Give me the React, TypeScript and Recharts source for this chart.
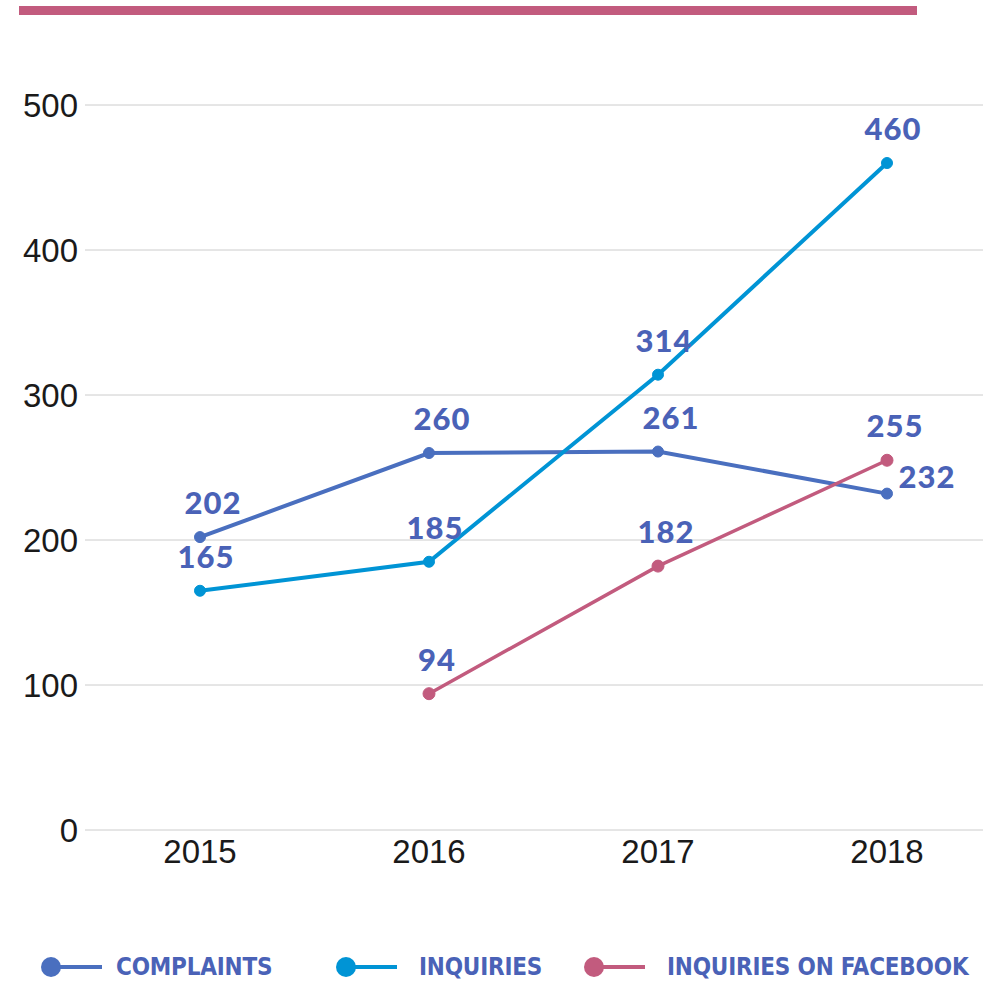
import { LineChart, Line, XAxis, YAxis, CartesianGrid, LabelList } from 'recharts';

const years = ['2015', '2016', '2017', '2018'];
const complaints = [202, 260, 261, 232];
const inquiries = [165, 185, 314, 460];
const facebookInquiries = [null, 94, 182, 255];
const yTicks = [0, 100, 200, 300, 400, 500];

const COLORS = {
  complaints: '#4a6fbf',
  inquiries: '#0094d5',
  facebook: '#c25b7e',
  label: '#4a62b7',
};

const data = years.map((year, i) => ({
  year,
  complaints: complaints[i],
  inquiries: inquiries[i],
  facebook: facebookInquiries[i],
}));

const legendItems = [
  { name: 'COMPLAINTS', color: COLORS.complaints, left: 40 },
  { name: 'INQUIRIES', color: COLORS.inquiries, left: 335 },
  { name: 'INQUIRIES ON FACEBOOK', color: COLORS.facebook, left: 583 },
];

// value labels sit above the dot, except the last complaints point which goes to the right
function makeLabel(dx: number, lastRight = false) {
  return (props: any) => {
    const { x, y, value, index } = props;
    if (value == null) return null;
    const right = lastRight && index === years.length - 1;
    return (
      <text
        x={right ? x + 40 : x + dx}
        y={right ? y - 18 : y - 35}
        textAnchor="middle"
        dominantBaseline="central"
        fill={COLORS.label}
        fontFamily="Lato, 'Open Sans', sans-serif"
        fontWeight={900}
        fontSize={31}
        letterSpacing={1}
      >
        {value}
      </text>
    );
  };
}

const tickStyle = { fill: '#1a1a1a', fontSize: 33, fontFamily: 'Liberation Sans, Arial, sans-serif' };

export default function App() {
  return (
    <div style={{ position: 'relative', width: 983, height: 983, background: '#fff' }}>
      <style>{`body{margin:0}`}</style>
      <div
        style={{
          position: 'absolute',
          left: 19,
          top: 6,
          width: 898,
          height: 9,
          background: COLORS.facebook,
        }}
      />
      <LineChart
        width={983}
        height={983}
        data={data}
        margin={{ top: 105, right: 0, bottom: 93, left: 0 }}
      >
        <CartesianGrid vertical={false} stroke="#cccccc" strokeWidth={1} />
        <XAxis
          dataKey="year"
          height={60}
          axisLine={false}
          tickLine={false}
          tickSize={0}
          tickMargin={10}
          padding={{ left: 115, right: 96 }}
          tick={tickStyle}
        />
        <YAxis
          width={85}
          domain={[0, 500]}
          ticks={yTicks}
          axisLine={false}
          tickLine={false}
          tickSize={0}
          tickMargin={7}
          tick={tickStyle}
        />
        <Line
          dataKey="complaints"
          stroke={COLORS.complaints}
          strokeWidth={4}
          dot={{ r: 5.5, fill: COLORS.complaints, stroke: COLORS.complaints, strokeWidth: 1 }}
          activeDot={false}
          isAnimationActive={false}
        >
          <LabelList dataKey="complaints" content={makeLabel(13, true)} />
        </Line>
        <Line
          dataKey="inquiries"
          stroke={COLORS.inquiries}
          strokeWidth={4}
          dot={{ r: 5.5, fill: COLORS.inquiries, stroke: COLORS.inquiries, strokeWidth: 1 }}
          activeDot={false}
          isAnimationActive={false}
        >
          <LabelList dataKey="inquiries" content={makeLabel(6)} />
        </Line>
        <Line
          dataKey="facebook"
          stroke={COLORS.facebook}
          strokeWidth={3.5}
          connectNulls={false}
          dot={{ r: 6, fill: COLORS.facebook, stroke: COLORS.facebook, strokeWidth: 1 }}
          activeDot={false}
          isAnimationActive={false}
        >
          <LabelList dataKey="facebook" content={makeLabel(8)} />
        </Line>
      </LineChart>

      {/* legend */}
      {legendItems.map((item) => (
        <div
          key={item.name}
          style={{
            position: 'absolute',
            left: item.left,
            top: 955,
            height: 24,
            display: 'flex',
            alignItems: 'center',
          }}
        >
          <svg width={64} height={24}>
            <line x1={12} y1={12} x2={62} y2={12} stroke={item.color} strokeWidth={4} />
            <circle cx={11} cy={12} r={10} fill={item.color} />
          </svg>
          <span
            style={{
              marginLeft: item.name === 'COMPLAINTS' ? 12 : 20,
              color: COLORS.label,
              fontFamily: "'Liberation Sans Narrow', 'DejaVu Sans Condensed', sans-serif",
              fontWeight: 'bold',
              fontSize: 24,
              letterSpacing: -0.2,
              lineHeight: '24px',
              whiteSpace: 'nowrap',
            }}
          >
            {item.name}
          </span>
        </div>
      ))}
    </div>
  );
}
